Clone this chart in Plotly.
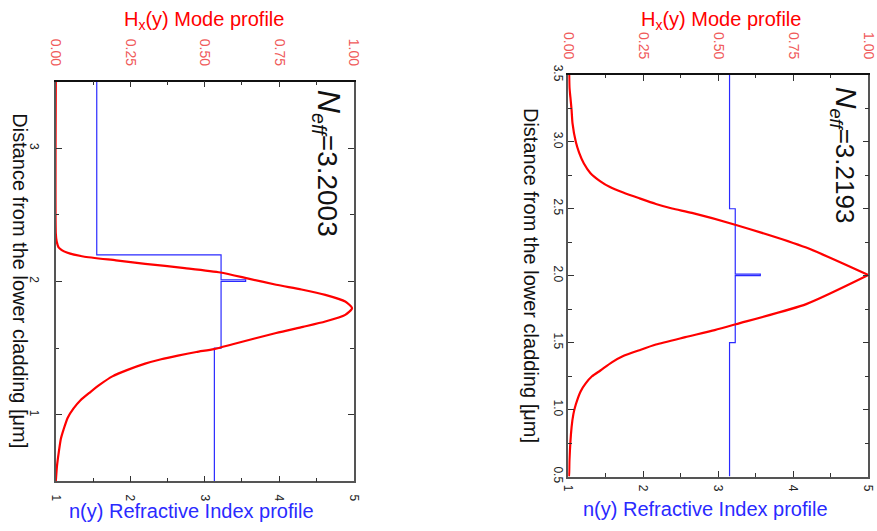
import plotly.graph_objects as go

# ---------------- data ----------------
# Left panel: refractive index step profile (distance in um, index)
left_n_dist = [0.5, 1.5, 1.5, 2.0, 2.0, 2.012, 2.012, 2.2, 2.2, 3.5]
left_n_val = [3.13, 3.13, 3.22, 3.22, 3.55, 3.55, 3.22, 3.22, 1.55, 1.55]
# Left panel: mode profile Hx(y)
left_h_dist = [0.50, 0.616, 0.72, 0.82, 0.889, 0.978, 1.046, 1.109, 1.167, 1.228, 1.288, 1.337,
               1.384, 1.417, 1.444, 1.471, 1.493, 1.529, 1.614, 1.66, 1.70, 1.75, 1.80,
               1.85, 1.90, 1.94, 1.976, 2.022, 2.068, 2.101, 2.133, 2.159, 2.188, 2.217,
               2.254, 2.30, 2.36, 3.50]
left_h_val = [0.000, 0.004, 0.010, 0.017, 0.026, 0.040, 0.059, 0.083, 0.114, 0.149, 0.190, 0.241,
              0.300, 0.354, 0.410, 0.472, 0.531, 0.594, 0.740, 0.830, 0.905, 0.972, 0.995,
              0.972, 0.905, 0.825, 0.740, 0.647, 0.553, 0.433, 0.300, 0.202, 0.092, 0.037,
              0.010, 0.003, 0.000, 0.000]
left_neff = "3.2003"

# Right panel: refractive index step profile
right_n_dist = [0.5, 1.5, 1.5, 2.0, 2.0, 2.012, 2.012, 2.5, 2.5, 3.5]
right_n_val = [3.15, 3.15, 3.226, 3.226, 3.56, 3.56, 3.226, 3.226, 3.15, 3.15]
# Right panel: mode profile Hx(y), lower and upper halves (cusp at the delta layer)
right_h_dist_low = [0.50, 0.531, 0.628, 0.87, 0.966, 1.038, 1.136, 1.196, 1.249, 1.292, 1.353,
                    1.40, 1.444, 1.486, 1.541, 1.594, 1.638, 1.788, 2.005]
right_h_val_low = [0.002, 0.003, 0.004, 0.011, 0.017, 0.025, 0.041, 0.058, 0.079, 0.107, 0.145,
                   0.183, 0.237, 0.292, 0.390, 0.488, 0.559, 0.793, 1.000]
right_h_dist_up = [2.005, 2.21, 2.379, 2.469, 2.502, 2.536, 2.578, 2.621, 2.662, 2.705, 2.766,
                   2.838, 2.92, 3.00, 3.14, 3.237, 3.333, 3.406, 3.50]
right_h_val_up = [1.000, 0.793, 0.559, 0.412, 0.346, 0.292, 0.237, 0.183, 0.139, 0.107, 0.074,
                  0.052, 0.036, 0.025, 0.014, 0.011, 0.007, 0.004, 0.003]
right_neff = "3.2193"

n_ticks = [1, 2, 3, 4, 5]
h_ticks = [0, 0.25, 0.5, 0.75, 1.0]
left_d_ticks = [1, 2, 3]
right_d_ticks = [0.5, 1.0, 1.5, 2.0, 2.5, 3.0, 3.5]

# ---------------- styling ----------------
FONT = "Liberation Sans, Arial, sans-serif"
RED = "#ff0000"
BLUE = "#2a2aff"
TICKRED = "#f05a5a"
FRAME = "#555555"
W, H = 877, 531

fig = go.Figure()

red_line = dict(color=RED, width=2.2, shape="spline", smoothing=0.6)
fig.add_trace(go.Scatter(x=left_n_val, y=left_n_dist, mode="lines",
                         line=dict(color=BLUE, width=1.2), xaxis="x", yaxis="y", showlegend=False))
fig.add_trace(go.Scatter(x=left_h_val, y=left_h_dist, mode="lines", line=red_line,
                         xaxis="x2", yaxis="y", showlegend=False))
fig.add_trace(go.Scatter(x=right_n_val, y=right_n_dist, mode="lines",
                         line=dict(color=BLUE, width=1.2), xaxis="x3", yaxis="y2", showlegend=False))
fig.add_trace(go.Scatter(x=right_h_val_low, y=right_h_dist_low, mode="lines", line=red_line,
                         xaxis="x4", yaxis="y2", showlegend=False))
fig.add_trace(go.Scatter(x=right_h_val_up, y=right_h_dist_up, mode="lines", line=red_line,
                         xaxis="x4", yaxis="y2", showlegend=False))

L_dom_x = [48.7 / W, 352 / W]
L_dom_y = [1 - 487 / H, 1 - 74 / H]
R_dom_x = [570.7 / W, 876.3 / W]
R_dom_y = [1 - 482 / H, 1 - 67 / H]

tickfont_black = dict(family=FONT, size=12, color="#222222")
tickfont_red = dict(family=FONT, size=14, color=TICKRED)


def n_axis(domain, anchor, standoff):
    return dict(domain=domain, anchor=anchor, range=[1, 5], side="bottom",
                tickmode="array", tickvals=n_ticks, ticktext=[str(v) for v in n_ticks],
                ticks="inside", ticklen=6, tickwidth=1.2, tickcolor="#333",
                minor=dict(dtick=0.5, ticks="inside", ticklen=3.5, tickcolor="#333", showgrid=False),
                tickangle=90, tickfont=tickfont_black, showline=True, linecolor=FRAME, linewidth=1.5,
                showgrid=False, zeroline=False, ticklabelstandoff=standoff)


def h_axis(domain, anchor, overlay):
    return dict(domain=domain, anchor=anchor, overlaying=overlay, range=[0, 1], side="top",
                tickmode="array", tickvals=h_ticks, ticktext=["%.2f" % v for v in h_ticks],
                ticks="inside", ticklen=6, tickwidth=1.2, tickcolor="#333",
                minor=dict(dtick=0.125, ticks="inside", ticklen=3.5, tickcolor="#333", showgrid=False),
                tickangle=90, tickfont=tickfont_red, showline=True, linecolor="#111", linewidth=1.5,
                showgrid=False, zeroline=False, ticklabelstandoff=9)


def d_axis(domain, anchor, vals, texts, minor_dtick, standoff):
    return dict(domain=domain, anchor=anchor, range=[0.5, 3.5],
                tickmode="array", tickvals=vals, ticktext=texts,
                ticks="inside", ticklen=6, tickwidth=1.2, tickcolor="#333",
                minor=dict(dtick=minor_dtick, ticks="inside", ticklen=3.5, tickcolor="#333", showgrid=False),
                mirror="ticks", tickangle=90, tickfont=tickfont_black,
                showline=True, linecolor=FRAME, linewidth=1.5, showgrid=False, zeroline=False,
                ticklabelstandoff=standoff)


fig.update_layout(
    width=W, height=H, autosize=False,
    margin=dict(l=0, r=0, t=0, b=0),
    paper_bgcolor="white", plot_bgcolor="white",
    xaxis=n_axis(L_dom_x, "y", 9),
    xaxis2=h_axis(L_dom_x, "y", "x"),
    yaxis=d_axis(L_dom_y, "x", left_d_ticks, [str(v) for v in left_d_ticks], 0.5, 10),
    xaxis3=n_axis(R_dom_x, "y2", 4),
    xaxis4=h_axis(R_dom_x, "y2", "x3"),
    yaxis2=d_axis(R_dom_y, "x3", right_d_ticks, ["%.1f" % v for v in right_d_ticks], 0.25, -2),
)

ann = []
# top titles
for xc in (200, 726):
    ann.append(dict(text="H<sub>x</sub>(y) Mode profile", x=xc / W, y=1 + 4 / H, xref="paper", yref="paper",
                    xanchor="center", yanchor="top", showarrow=False,
                    font=dict(family=FONT, size=20, color=RED)))
# bottom titles
for xc, yc in ((187, 518), (710.5, 515)):
    ann.append(dict(text="n(y) Refractive Index profile", x=xc / W, y=1 - yc / H, xref="paper", yref="paper",
                    xanchor="center", yanchor="middle", showarrow=False,
                    font=dict(family=FONT, size=20, color=BLUE)))
# vertical titles
for xc, yc in ((12, 280), (533.5, 274.5)):
    ann.append(dict(text="Distance from the lower cladding [\u03bcm]", x=xc / W, y=1 - yc / H,
                    xref="paper", yref="paper", xanchor="center", yanchor="middle", showarrow=False,
                    textangle=90, font=dict(family=FONT, size=20, color="#111111")))
# Neff labels
for xc, yc, val, fs in ((325, 158, left_neff, 28), (852, 150, right_neff, 26)):
    ann.append(dict(text='<span style="font-size:%dpx"><i>N</i></span><sub><i>eff</i></sub>=' % (fs + 4) + val,
                    x=xc / W, y=1 - yc / H,
                    xref="paper", yref="paper", xanchor="center", yanchor="middle", showarrow=False,
                    textangle=90, font=dict(family=FONT, size=fs, color="#111111")))
fig.update_layout(annotations=ann)

fig.write_html("out.html")
